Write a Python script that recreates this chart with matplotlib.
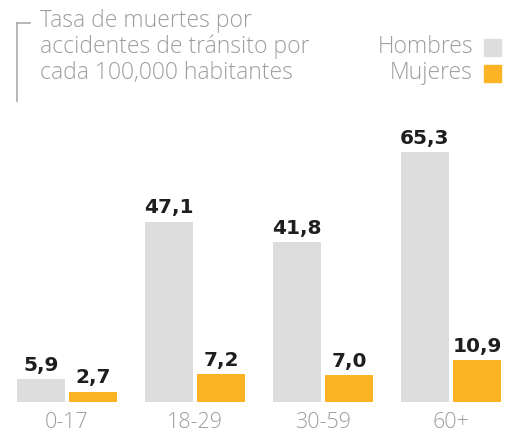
import matplotlib
matplotlib.use("Agg")
import matplotlib.pyplot as plt
from matplotlib.lines import Line2D
from matplotlib.patches import Rectangle

categories = ["0-17", "18-29", "30-59", "60+"]
hombres = [5.9, 47.1, 41.8, 65.3]
mujeres = [2.7, 7.2, 7.0, 10.9]
series_names = ["Hombres", "Mujeres"]
title = "Tasa de muertes por\naccidentes de tránsito por\ncada 100,000 habitantes"

GRAY = "#dddddd"
ORANGE = "#fdb424"
TXT = "#9e9e9e"
DARK = "#1e1e1e"
LIGHT = dict(family="Open Sans", fontweight="light")

W, H = 510, 433
fig = plt.figure(figsize=(W / 100, H / 100), dpi=100)
base = 402
ax = fig.add_axes([0, (H - base) / H, 1, base / H])
px_per_unit = 3.83
ax.set_ylim(0, base / px_per_unit)
ax.set_xlim(-67 / 128, (W - 67) / 128)

x = list(range(len(categories)))
bw = 48 / 128
off = 26 / 128
b1 = ax.bar([i - off for i in x], hombres, bw, color=GRAY)
b2 = ax.bar([i + off for i in x], mujeres, bw, color=ORANGE)

for bars, vals in ((b1, hombres), (b2, mujeres)):
    for r, v in zip(bars, vals):
        ax.annotate(f"{v:.1f}".replace(".", ","), (r.get_x() + r.get_width() / 2, v),
                    xytext=(0, 3), textcoords="offset points", ha="center", va="bottom",
                    fontsize=14.5, fontweight="heavy", family="DejaVu Sans", color=DARK)

ax.set_xticks(x)
ax.set_xticklabels(categories, fontsize=15.5, color=TXT, **LIGHT)
ax.tick_params(axis="x", length=0, pad=18.5)
for lbl in ax.get_xticklabels():
    lbl.set_verticalalignment("baseline")
ax.set_yticks([])
for s in ax.spines.values():
    s.set_visible(False)

fig.text(40 / W, 1 - 9 / H, title, ha="left", va="top", fontsize=16.5, color=TXT,
         linespacing=1.1, **LIGHT)
fig.add_artist(Line2D([17 / W, 17 / W], [1 - 23 / H, 1 - 101 / H], color="#aaaaaa", lw=1.2))
fig.add_artist(Line2D([17 / W, 30 / W], [1 - 23 / H, 1 - 23 / H], color="#aaaaaa", lw=1.2))

for name, col, yc in ((series_names[0], GRAY, 47), (series_names[1], ORANGE, 73)):
    fig.text(473 / W, 1 - yc / H, name, ha="right", va="center", fontsize=16.5, color=TXT,
             **LIGHT)
    fig.add_artist(Rectangle((484 / W, 1 - (yc + 9) / H), 17 / W, 17 / H, color=col,
                             transform=fig.transFigure))

fig.savefig("out.png", dpi=100)
